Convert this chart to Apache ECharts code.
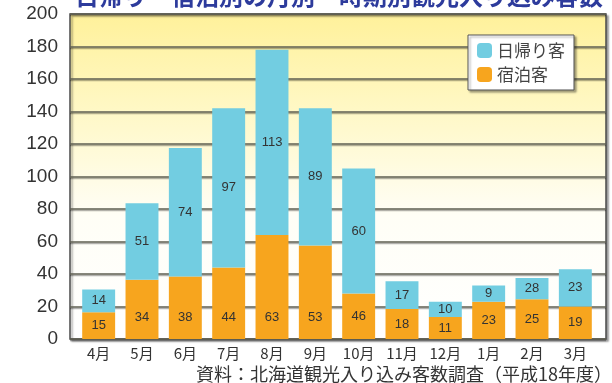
<!DOCTYPE html>
<html>
<head>
<meta charset="utf-8">
<script src="https://cdn.jsdelivr.net/npm/echarts@6/dist/echarts.min.js"></script>
<style>
  html, body { margin: 0; padding: 0; background: #fff; }
  #main { width: 612px; height: 383px; }
</style>
</head>
<body>
<div id="main"></div>
<script>
// categories (fiscal year, April -> March)
var months = ['4月', '5月', '6月', '7月', '8月', '9月', '10月', '11月', '12月', '1月', '2月', '3月'];
// bar heights as drawn in the picture
var stayValues = [16.5, 36.5, 38.5, 44, 64, 57.5, 28, 18.5, 13.5, 23, 24.5, 20];
var dayValues  = [14, 47, 79, 98, 114, 84.5, 77, 17, 9.5, 10, 13, 23];
// printed value labels
var stayLabels = ['15', '34', '38', '44', '63', '53', '46', '18', '11', '23', '25', '19'];
var dayLabels  = ['14', '51', '74', '97', '113', '89', '60', '17', '10', '9', '28', '23'];
var yTicks = [0, 200, 20];

var chart = echarts.init(document.getElementById('main'));
var narrow = 'Liberation Sans Narrow, Liberation Sans, Arial, sans-serif';
var jp = 'Noto Sans CJK JP, sans-serif';

var stayData = stayValues.map(function (v, i) {
    return {
        value: v,
        label: v > 30 ? { position: 'insideBottom', distance: 15 } : { position: 'inside' }
    };
});

var option = {
    backgroundColor: '#fff',
    animation: false,
    title: {
        text: '日帰り・宿泊別の月別・時期別観光入り込み客数',
        left: 70,
        top: -21,
        textStyle: { color: '#2d3b9c', fontSize: 24, fontWeight: 'bold', fontFamily: jp }
    },
    legend: {
        data: ['日帰り客', '宿泊客'],
        orient: 'vertical',
        left: 468,
        top: 35,
        itemWidth: 15,
        itemHeight: 15,
        itemGap: 7,
        padding: [7, 9, 7, 9],
        backgroundColor: '#fff',
        borderColor: '#555',
        borderWidth: 1,
        shadowColor: 'rgba(0,0,0,0.35)',
        shadowBlur: 2,
        shadowOffsetX: 2,
        shadowOffsetY: 2,
        textStyle: { color: '#444', fontSize: 17, fontFamily: jp },
        itemStyle: { borderWidth: 0 }
    },
    graphic: [{
        type: 'text',
        right: 0,
        top: 365,
        style: {
            text: '資料：北海道観光入り込み客数調査（平成18年度）',
            fill: '#333',
            font: '18px "Noto Sans CJK JP"'
        }
    }],
    grid: [
        {
            left: 70, right: 6, top: 14, bottom: 44,
            show: true,
            borderColor: '#4a4a4a',
            borderWidth: 1.5,
            shadowColor: 'rgba(0,0,0,0.35)',
            shadowBlur: 2,
            shadowOffsetX: 2,
            shadowOffsetY: 2,
            backgroundColor: new echarts.graphic.LinearGradient(0, 0, 0, 1, [
                { offset: 0, color: '#fff19a' },
                { offset: 0.3, color: '#fff8c6' },
                { offset: 0.62, color: '#fffef6' },
                { offset: 1, color: '#ffffff' }
            ])
        },
        { left: 77, right: 15, top: 14, bottom: 44 }
    ],
    xAxis: [
        { gridIndex: 0, type: 'category', data: months, show: false },
        {
            gridIndex: 1,
            type: 'category',
            data: months,
            axisLine: { show: false },
            axisTick: { show: false },
            axisLabel: { color: '#333', fontSize: 15, fontFamily: jp, margin: 7, interval: 0 }
        }
    ],
    yAxis: [
        {
            gridIndex: 0,
            type: 'value',
            min: yTicks[0],
            max: yTicks[1],
            interval: yTicks[2],
            axisLine: { show: false },
            axisTick: { show: false },
            axisLabel: { color: '#333', fontSize: 19, fontFamily: narrow, margin: 12 },
            splitLine: {
                lineStyle: {
                    color: '#5e5e50',
                    width: 1.5,
                    shadowColor: 'rgba(0,0,0,0.3)',
                    shadowOffsetY: 1.5
                }
            }
        },
        { gridIndex: 1, type: 'value', min: yTicks[0], max: yTicks[1], show: false }
    ],
    series: [
        {
            name: '宿泊客',
            type: 'bar',
            stack: 'all',
            xAxisIndex: 1,
            yAxisIndex: 1,
            barCategoryGap: '24%',
            data: stayData,
            itemStyle: { color: '#f7a51e' },
            label: {
                show: true,
                color: '#333',
                fontSize: 13,
                fontFamily: narrow,
                formatter: function (p) { return stayLabels[p.dataIndex]; }
            }
        },
        {
            name: '日帰り客',
            type: 'bar',
            stack: 'all',
            xAxisIndex: 1,
            yAxisIndex: 1,
            barCategoryGap: '24%',
            data: dayValues,
            itemStyle: { color: '#72cde1' },
            label: {
                show: true,
                position: 'inside',
                color: '#333',
                fontSize: 13,
                fontFamily: narrow,
                formatter: function (p) { return dayLabels[p.dataIndex]; }
            }
        }
    ]
};

chart.setOption(option);
</script>
</body>
</html>
